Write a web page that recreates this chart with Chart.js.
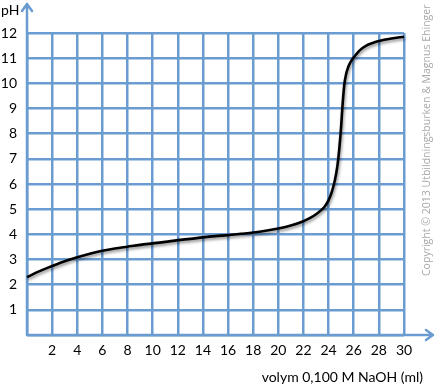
<!DOCTYPE html>
<html>
<head>
<meta charset="utf-8">
<script src="https://cdn.jsdelivr.net/npm/chart.js@4/dist/chart.umd.min.js"></script>
<style>
html,body{margin:0;padding:0;background:#fff;}
#wrap{width:437px;height:385px;}
</style>
</head>
<body>
<div id="wrap"><canvas id="c" width="437" height="385"></canvas></div>
<script>
const volumes = [0,1,2,3,4,5,6,7,8,9,10,11,12,13,14,15,16,17,18,19,20,21,22,22.5,23,23.5,23.75,24,24.25,24.5,24.7,24.85,25,25.1,25.25,25.4,25.55,25.7,25.85,26,26.5,27,27.5,28,29,30];
const phValues = [2.30,2.54,2.74,2.93,3.09,3.23,3.35,3.44,3.51,3.58,3.64,3.70,3.77,3.82,3.88,3.93,3.97,4.02,4.07,4.14,4.23,4.35,4.52,4.64,4.80,5.00,5.15,5.36,5.68,6.15,6.72,7.4,8.3,9.07,9.95,10.38,10.63,10.80,10.93,11.03,11.32,11.5,11.6,11.68,11.78,11.85];
const xTickLabels = ['', '2','4','6','8','10','12','14','16','18','20','22','24','26','28','30'];
const yTickLabels = ['', '1','2','3','4','5','6','7','8','9','10','11','12'];
const xTitle = 'volym 0,100 M NaOH (ml)';
const yTitle = 'pH';
const copyright = 'Copyright © 2013 Utbildningsburken & Magnus Ehinger';

const GRID = '#6a9bd1';
const FONT = 'Lato, "Open Sans", sans-serif';

const shadowPlugin = {
  id: 'shadow',
  beforeDatasetDraw(chart) {
    const ctx = chart.ctx;
    ctx.save();
    ctx.shadowColor = 'rgba(0,0,0,0.45)';
    ctx.shadowBlur = 3;
    ctx.shadowOffsetX = 1;
    ctx.shadowOffsetY = 2;
  },
  afterDatasetDraw(chart) { chart.ctx.restore(); }
};

const decorPlugin = {
  id: 'decor',
  beforeDatasetsDraw(chart) {
    const ctx = chart.ctx;
    const xs = chart.scales.x, ys = chart.scales.y;
    const x0 = xs.getPixelForValue(0), y0 = ys.getPixelForValue(0);
    const yTop = 4, xEnd = 433;
    ctx.save();
    ctx.strokeStyle = GRID;
    ctx.lineWidth = 2.5;
    ctx.lineCap = 'round';
    ctx.lineJoin = 'round';
    ctx.beginPath();
    ctx.moveTo(x0, y0); ctx.lineTo(x0, yTop);
    ctx.moveTo(x0 - 5, yTop + 7); ctx.lineTo(x0, yTop); ctx.lineTo(x0 + 5, yTop + 7);
    ctx.moveTo(x0, y0); ctx.lineTo(xEnd, y0);
    ctx.moveTo(xEnd - 7, y0 - 5); ctx.lineTo(xEnd, y0); ctx.lineTo(xEnd - 7, y0 + 5);
    ctx.stroke();
    ctx.restore();
  },
  afterDraw(chart) {
    const ctx = chart.ctx;
    ctx.save();
    ctx.fillStyle = '#000';
    ctx.font = '14px ' + FONT;
    ctx.textBaseline = 'middle';
    ctx.textAlign = 'left';
    ctx.fillText(yTitle, 1, 10);
    ctx.textAlign = 'right';
    ctx.fillText(xTitle, 423, 377);
    let fs = 10;
    ctx.font = fs + 'px "Open Sans", sans-serif';
    const w = ctx.measureText(copyright).width;
    fs = fs * 272 / w;
    ctx.font = fs.toFixed(2) + 'px "Open Sans", sans-serif';
    ctx.fillStyle = '#a8a8a8';
    ctx.translate(427, 276);
    ctx.rotate(-Math.PI / 2);
    ctx.textAlign = 'left';
    ctx.textBaseline = 'middle';
    ctx.fillText(copyright, 0, 0);
    ctx.restore();
  }
};

new Chart(document.getElementById('c'), {
  type: 'line',
  data: {
    datasets: [{
      data: volumes.map((v, i) => ({x: v, y: phValues[i]})),
      borderColor: '#000',
      borderWidth: 2.6,
      pointRadius: 0,
      cubicInterpolationMode: 'monotone',
      fill: false,
      clip: false
    }]
  },
  options: {
    responsive: false,
    animation: false,
    devicePixelRatio: 1,
    layout: { padding: { top: 33, right: 33, left: 0, bottom: 0 } },
    plugins: { legend: { display: false }, tooltip: { enabled: false } },
    scales: {
      x: {
        type: 'linear', min: 0, max: 30,
        afterFit(s) { s.height = 50; },
        border: { display: false },
        grid: { color: GRID, lineWidth: 2.5, drawTicks: false },
        ticks: {
          stepSize: 2, padding: 7, color: '#000', maxRotation: 0, autoSkip: false,
          font: { family: FONT, size: 14 },
          callback: (v) => xTickLabels[Math.round(v / 2)] ?? ''
        }
      },
      y: {
        type: 'linear', min: 0, max: 12,
        afterFit(s) { s.width = 27; },
        border: { display: false },
        grid: { color: GRID, lineWidth: 2.5, drawTicks: false },
        ticks: {
          stepSize: 1, padding: 10, color: '#000', autoSkip: false,
          font: { family: FONT, size: 14 },
          callback: (v) => yTickLabels[v] ?? ''
        }
      }
    }
  },
  plugins: [shadowPlugin, decorPlugin]
});
</script>
</body>
</html>
